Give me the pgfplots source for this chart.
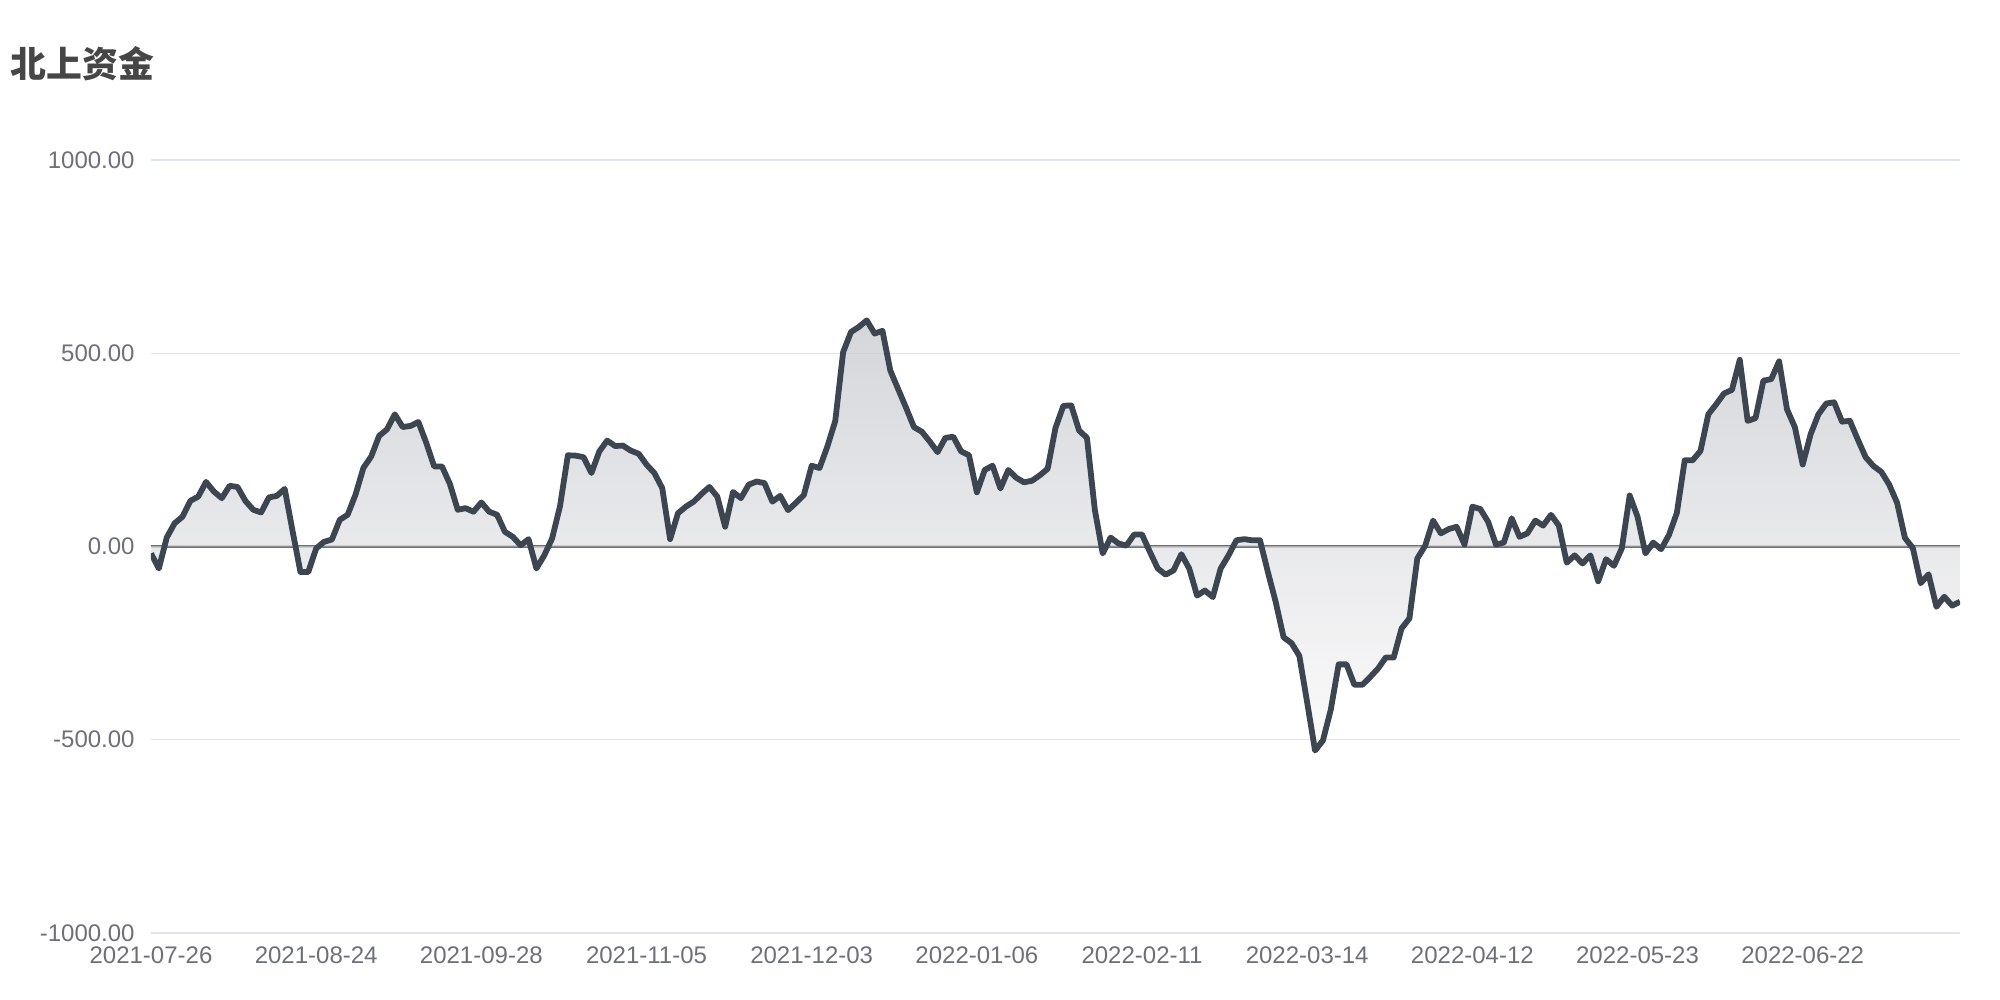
\documentclass[border=0pt]{standalone}
\usepackage{fontspec}
\setmainfont{Liberation Sans}
\newfontfamily\cjk{Noto Sans CJK SC}
\usepackage{pgfplots}
\usepackage{pgfplotstable}
\pgfplotsset{compat=1.18}

\definecolor{linec}{HTML}{3D4650}
\definecolor{gridc}{HTML}{E0E6F1}
\definecolor{zeroc}{HTML}{6E7079}
\definecolor{labelc}{HTML}{6E7079}
\definecolor{titlec}{HTML}{464646}
\definecolor{areatop}{RGB}{202,204,209}
\definecolor{areabot}{RGB}{250,250,250}

% 北上资金, one value per trading day
\pgfplotstableread{
i v
0 -18
1 -57
2 23
3 60
4 77
5 118
6 129
7 167
8 142
9 125
10 157
11 154
12 118
13 95
14 88
15 127
16 131
17 149
18 40
19 -66
20 -66
21 -5
22 12
23 18
24 69
25 82
26 134
27 203
28 233
29 286
30 303
31 342
32 309
33 312
34 322
35 268
36 207
37 207
38 162
39 95
40 99
41 90
42 114
43 90
44 82
45 38
46 25
47 3
48 19
49 -57
50 -23
51 21
52 104
53 236
54 235
55 231
56 190
57 246
58 274
59 260
60 261
61 248
62 240
63 212
64 190
65 151
66 19
67 86
68 103
69 116
70 136
71 154
72 129
73 51
74 141
75 125
76 160
77 168
78 164
79 116
80 131
81 94
82 113
83 133
84 209
85 203
86 259
87 325
88 503
89 555
90 568
91 585
92 551
93 558
94 455
95 407
96 359
97 309
98 297
99 272
100 244
101 281
102 284
103 246
104 236
105 140
106 198
107 209
108 150
109 198
110 178
111 166
112 170
113 184
114 201
115 307
116 364
117 365
118 300
119 281
120 95
121 -18
122 23
123 8
124 2
125 31
126 31
127 -14
128 -57
129 -73
130 -62
131 -20
132 -57
133 -127
134 -114
135 -131
136 -57
137 -23
138 16
139 19
140 16
141 16
142 -66
143 -144
144 -235
145 -250
146 -283
147 -404
148 -528
149 -502
150 -422
151 -305
152 -305
153 -358
154 -358
155 -338
156 -316
157 -287
158 -287
159 -212
160 -186
161 -31
162 2
163 67
164 34
165 45
166 51
167 5
168 103
169 97
170 64
171 5
172 10
173 73
174 25
175 34
176 67
177 54
178 82
179 54
180 -42
181 -23
182 -44
183 -23
184 -90
185 -33
186 -50
187 -5
188 132
189 77
190 -18
191 10
192 -7
193 30
194 87
195 223
196 223
197 247
198 342
199 368
200 396
201 405
202 483
203 325
204 332
205 429
206 433
207 479
208 355
209 309
210 212
211 290
212 342
213 370
214 373
215 323
216 325
217 277
218 231
219 208
220 193
221 160
222 113
223 22
224 -4
225 -95
226 -72
227 -156
228 -130
229 -153
230 -143
}\flowdata

\begin{document}
\begin{tikzpicture}
\useasboundingbox (0,0) rectangle (20cm,10cm);
\node[anchor=west, text=titlec, inner sep=0pt] at (0.10cm,9.36cm)
  {\cjk\bfseries\fontsize{10.2}{12}\selectfont 北上资金};
\begin{axis}[
    at={(1.51cm,0.67cm)}, anchor=south west,
    scale only axis,
    width=18.09cm, height=7.73cm,
    xmin=0, xmax=230, ymin=-1000, ymax=1000,
    axis x line=bottom, axis y line=left,
    axis line style={draw=none},
    tick style={draw=none},
    major tick length=0pt,
    ymajorgrids,
    grid style={color=gridc, line width=0.4pt},
    ytick={-1000,-500,0,500,1000},
    yticklabels={-1000.00,-500.00,0.00,500.00,1000.00},
    extra y ticks={0},
    extra y tick labels={},
    extra y tick style={ymajorgrids=true, grid style={color=zeroc, line width=0.6pt}},
    xtick={0,21,...,210},
    xticklabels={2021-07-26,2021-08-24,2021-09-28,2021-11-05,2021-12-03,2022-01-06,2022-02-11,2022-03-14,2022-04-12,2022-05-23,2022-06-22},
    ticklabel style={font=\fontsize{6.83}{8}\selectfont, text=labelc},
    yticklabel style={xshift=-0.04cm},
    xticklabel style={yshift=-0.01cm},
]
\addplot[draw=none, top color=areatop, bottom color=areabot, fill opacity=0.8]
  table[x=i, y=v] {\flowdata} \closedcycle;
\addplot[color=linec, line width=1.65pt, line join=round, mark=none]
  table[x=i, y=v] {\flowdata};
\end{axis}
\end{tikzpicture}
\end{document}
